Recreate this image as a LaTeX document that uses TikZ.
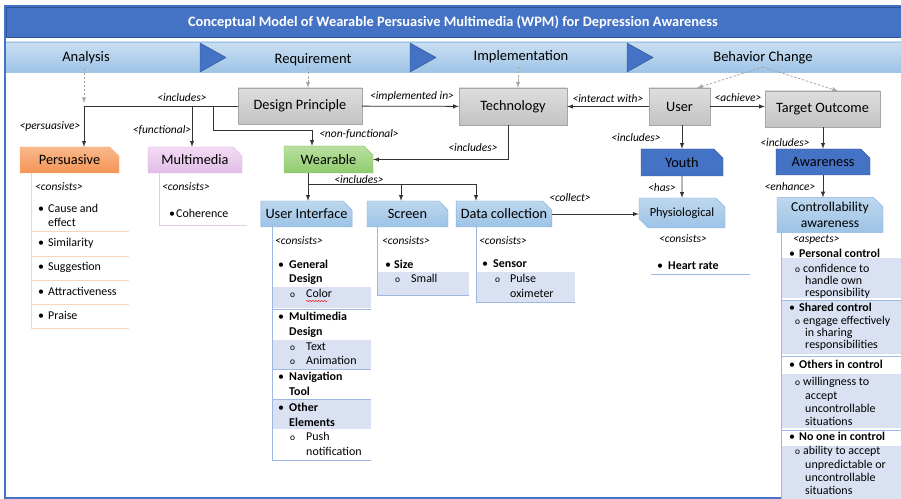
\documentclass[tikz,border=0pt]{standalone}
\usepackage{fontspec}
\setmainfont{Carlito}
\usepackage{tikz}
\usetikzlibrary{arrows.meta, positioning, shapes.misc, decorations.pathmorphing}
\usepackage{xcolor}

\definecolor{titleblue}{HTML}{4472C4}
\definecolor{darkblue}{HTML}{2F5597}
\definecolor{barTop}{HTML}{BDD7EE}
\definecolor{barBot}{HTML}{9DC3E6}
\definecolor{lbBorder}{HTML}{7FAEE0}
\definecolor{lineblue}{HTML}{9DB9E3}
\definecolor{rowblue}{HTML}{D9E1F2}
\definecolor{grayTop}{HTML}{DEDEDE}
\definecolor{grayBot}{HTML}{C3C3C3}
\definecolor{grayLine}{HTML}{A6A6A6}
\definecolor{orTop}{HTML}{F9B88C}
\definecolor{orBot}{HTML}{F59455}
\definecolor{orLine}{HTML}{F4B183}
\definecolor{orList}{HTML}{FAD3B8}
\definecolor{mmTop}{HTML}{F2DBF4}
\definecolor{mmBot}{HTML}{E2BDE8}
\definecolor{mmLine}{HTML}{D9B2E0}
\definecolor{grTop}{HTML}{B9E0A0}
\definecolor{grBot}{HTML}{8FCB6E}
\definecolor{grLine}{HTML}{7CC05A}

\newcommand\fsnode{\fontsize{12.2}{14}\selectfont}
\newcommand\fsphase{\fontsize{12.4}{14}\selectfont}
\newcommand\fslab{\fontsize{9.8}{11}\selectfont\itshape}
\newcommand\fslist{\fontsize{10.2}{12}\selectfont}
\newcommand\fsctl{\fontsize{10.2}{11}\selectfont}

\begin{document}
\begin{tikzpicture}[
    x=0.3mm, y=-0.3mm,
    sz/.style 2 args={minimum width=#1*0.3mm, minimum height=#2*0.3mm},
    gbox/.style={rectangle, draw=grayLine, top color=grayTop, bottom color=grayBot, font=\fsnode, inner sep=0pt},
    snip/.style={chamfered rectangle, chamfered rectangle corners=north east, chamfered rectangle xsep=1.4mm, chamfered rectangle ysep=1.4mm, inner sep=0pt, font=\fsnode},
    lbox/.style={snip, draw=lbBorder, top color=barTop, bottom color=barBot},
    dbox/.style={snip, draw=darkblue, fill=titleblue},
    lbl/.style={font=\fslab, inner sep=0pt},
    itm/.style={font=\fslist, anchor=west, inner sep=0pt, text height=7pt, text depth=2pt},
    bitm/.style={itm, font=\fslist\bfseries},
    omark/.style={itm, font=\fontsize{8}{9}\selectfont},
    citm/.style={itm, font=\fsctl},
    cbitm/.style={itm, font=\fsctl\bfseries},
    link/.style={draw=black!80, line width=0.7pt, -latex},
    conn/.style={draw=black!80, line width=0.7pt},
    phasearrow/.style={draw=gray!70, line width=0.7pt, dash pattern=on 2pt off 1.5pt, -latex},
    orlist/.style={draw=orList, line width=0.7pt},
    bllist/.style={draw=lineblue, line width=0.7pt}
]
\useasboundingbox (0,0) rectangle (901,499);

% Frame, title and phases
\draw[titleblue, line width=1pt] (5,6) rectangle (906,498);
\filldraw[fill=titleblue, draw=darkblue] (6,7) rectangle (906,37);
\node[font=\fontsize{12.3}{14}\selectfont\bfseries, text=white] (title) at (453,22)
    {Conceptual Model of Wearable Persuasive Multimedia (WPM) for Depression Awareness};
\shade[top color=barTop!80, bottom color=barBot] (6,42) rectangle (906,73);
\draw[barBot] (6,42) -- (906,42);

\node[font=\fsphase] (ana) at (86,58) {Analysis};
\node[font=\fsphase] (req) at (313,60) {Requirement};
\node[font=\fsphase] (impl) at (521,57) {Implementation};
\node[font=\fsphase] (beh) at (763,58) {Behavior Change};
\filldraw[fill=titleblue, draw=darkblue] (200,43) -- (226,57.5) -- (200,72) -- cycle;
\filldraw[fill=titleblue, draw=darkblue] (410,43) -- (436,57.5) -- (410,72) -- cycle;
\filldraw[fill=titleblue, draw=darkblue] (627,43) -- (653,57.5) -- (627,72) -- cycle;

% Main concepts
\node[gbox, sz={124}{36}] (dp) at (300,106) {Design Principle};
\node[gbox, sz={108}{37}] (tech) at (513,106.5) {Technology};
\node[gbox, sz={61}{37}] (user) at (679.5,106.5) {User};
\node[gbox, sz={115}{36}] (to) at (822.5,109) {Target Outcome};

% Design principle categories
\node[snip, draw=orLine, top color=orTop, bottom color=orBot, sz={99}{26}] (pers) at (69.5,160) {Persuasive};
\node[snip, draw=mmLine, top color=mmTop, bottom color=mmBot, sz={94}{26}] (mm) at (195,160) {Multimedia};
\node[snip, draw=grLine, top color=grTop, bottom color=grBot, sz={89}{27}] (wear) at (328.5,159.5) {Wearable};

% Wearable parts
\node[lbox, sz={83}{26}] (ui) at (306.5,214) {User Interface};
\node[lbox, sz={81}{26}] (scr) at (407.5,214) {Screen};
\node[lbox, sz={90}{26}] (dc) at (504,214) {Data collection};

% User and outcome
\node[dbox, sz={82}{27}] (youth) at (682,162.5) {Youth};
\node[lbox, chamfered rectangle corners={north east, south west}, font=\fontsize{10.6}{12}\selectfont, sz={86}{30}] (phy) at (682,213) {Physiological};
\node[dbox, sz={94}{26}] (aw) at (823,162) {Awareness};
\node[lbox, sz={106}{34}, align=center, font=\fontsize{11.6}{13.5}\selectfont] (ctl) at (830,215) {Controllability\\awareness};

% Phase arrows
\coordinate (aEnd) at (84,103);
\coordinate (rq) at (308,68);
\coordinate (im) at (518,67);
\coordinate (bc) at (763,67);
\coordinate (uT) at (697,88);
\coordinate (tT) at (838,91);
\draw[phasearrow] (aEnd |- ana.south) -- (aEnd);
\draw[phasearrow] (rq) -- (rq |- dp.north);
\draw[phasearrow] (im) -- (im |- tech.north);
\draw[phasearrow] (bc) -- (uT);
\draw[phasearrow] (bc) -- (tT);

% Connections
\coordinate (jA) at (84,106);
\coordinate (jM) at (192,106);
\coordinate (jW) at (213,106);
\coordinate (kW) at (312,130);
\draw[conn] (dp.west) -- (jA);
\draw[link] (jA) -- (jA |- pers.north);
\draw[link] (jM) -- (jM |- mm.north);
\draw[link] (jW) |- (kW) -- (kW |- wear.north);
\draw[link] (dp) -- (tech);
\draw[link] (tech.south) ++(-5,0) |- (wear.east);
\draw[link] (user) -- (tech);
\draw[link] (user.east) -- (user.east -| to.west);
\draw[link] (user.south -| youth.north) -- (youth.north);
\draw[link] (to.south -| aw.north) -- (aw.north);
\draw[link] (youth) -- (phy);
\draw[link] (aw.south) -- (aw.south |- ctl.north);
\draw[link] (dc.east) -- (dc.east -| phy.west);

\coordinate (wj) at (308,184);
\coordinate (wjS) at (401,184);
\coordinate (wjD) at (476,184);
\draw[conn] (wj |- wear.south) -- (wj) -- (wjD);
\draw[link] (wj) -- (wj |- ui.north);
\draw[link] (wjS) -- (wjS |- scr.north);
\draw[link] (wjD) -- (wjD |- dc.north);

% Connector labels
\node[lbl] (lInc) at (182,98) {<includes>};
\node[lbl] (lPers) at (50,126) {<persuasive>};
\node[lbl] (lFunc) at (162,130) {<functional>};
\node[lbl] (lNonf) at (359,134) {<non-functional>};
\node[lbl] (lImpl) at (412,96) {<implemented in>};
\node[lbl] (lTinc) at (473,148) {<includes>};
\node[lbl] (lInter) at (608,99) {<interact with>};
\node[lbl] (lAch) at (738,98) {<achieve>};
\node[lbl] (lUinc) at (636,138) {<includes>};
\node[lbl] (lOinc) at (785,143) {<includes>};
\node[lbl] (lWinc) at (359,180) {<includes>};
\node[lbl] (lColl) at (570,198) {<collect>};
\node[lbl] (lHas) at (662,188) {<has>};
\node[lbl] (lEnh) at (790,187) {<enhance>};

% Persuasive list
\draw[orlist] (31,173) -- (31,328);
\foreach \y in {231,256,280,304,328} \draw[orlist] (31,\y) -- (129,\y);
\node[lbl, anchor=west] (pCons) at (35,187) {<consists>};
\node[itm] (pb1) at (38,210) {\textbullet};
\node[itm] (p1) at (48,210) {Cause and};
\node[itm] (p1b) at (48,224) {effect};
\node[itm] (pb2) at (38,244) {\textbullet};
\node[itm] (p2) at (48,244) {Similarity};
\node[itm] (pb3) at (38,268) {\textbullet};
\node[itm] (p3) at (48,268) {Suggestion};
\node[itm] (pb4) at (38,293) {\textbullet};
\node[itm] (p4) at (48,293) {Attractiveness};
\node[itm] (pb5) at (38,317) {\textbullet};
\node[itm] (p5) at (48,317) {Praise};

% Multimedia list
\draw[draw=mmLine!70, line width=0.7pt] (159,173) -- (159,225) -- (247,225);
\node[lbl, anchor=west] (mCons) at (162,187) {<consists>};
\node[itm] (mb1) at (169,215) {\textbullet};
\node[itm] (m1) at (176,215) {Coherence};

% User interface list
\fill[rowblue] (272,287) rectangle (371,308);
\fill[rowblue] (272,340) rectangle (371,369);
\fill[rowblue] (272,399) rectangle (371,429);
\draw[bllist] (272,227) -- (272,460);
\foreach \y in {309,369,399,460} \draw[bllist] (272,\y) -- (371,\y);
\node[lbl, anchor=west] (uCons) at (275,241) {<consists>};
\node[itm] (ub1) at (278,266) {\textbullet};
\node[bitm] (u1) at (289,266) {General};
\node[bitm] (u1b) at (289,280) {Design};
\node[omark] (uo1) at (290,295) {o};
\node[itm] (u1c) at (306,295) {Color};
\draw[red, decorate, decoration={snake, amplitude=0.5pt, segment length=2.5pt}] (306,301) -- (328,301);
\node[itm] (ub2) at (278,318) {\textbullet};
\node[bitm] (u2) at (289,318) {Multimedia};
\node[bitm] (u2b) at (289,333) {Design};
\node[omark] (uo2) at (290,348) {o};
\node[itm] (u2c) at (306,348) {Text};
\node[omark] (uo3) at (290,362) {o};
\node[itm] (u2d) at (306,362) {Animation};
\node[itm] (ub3) at (278,378) {\textbullet};
\node[bitm] (u3) at (289,378) {Navigation};
\node[bitm] (u3b) at (289,393) {Tool};
\node[itm] (ub4) at (278,409) {\textbullet};
\node[bitm] (u4) at (289,409) {Other};
\node[bitm] (u4b) at (289,424) {Elements};
\node[omark] (uo4) at (290,438) {o};
\node[itm] (u4c) at (306,438) {Push};
\node[itm] (u4d) at (306,453) {notification};

% Screen list
\fill[rowblue] (377,272) rectangle (469,295);
\draw[bllist] (377,227) -- (377,295) -- (469,295);
\node[lbl, anchor=west] (sCons) at (382,241) {<consists>};
\node[itm] (sb1) at (385,266) {\textbullet};
\node[bitm] (s1) at (394,266) {Size};
\node[omark] (so1) at (395,280) {o};
\node[itm] (s1b) at (411,280) {Small};

% Data collection list
\fill[rowblue] (476,272) rectangle (575,302);
\draw[bllist] (476,227) -- (476,302) -- (575,302);
\node[lbl, anchor=west] (dCons) at (479,241) {<consists>};
\node[itm] (db1) at (482,265) {\textbullet};
\node[bitm] (d1) at (493,265) {Sensor};
\node[omark] (do1) at (495,280) {o};
\node[itm] (d1b) at (510,280) {Pulse};
\node[itm] (d1c) at (510,295) {oximeter};

% Physiological list
\node[lbl] (hCons) at (683,239) {<consists>};
\node[itm] (hb1) at (657,267) {\textbullet};
\node[bitm] (h1) at (668,267) {Heart rate};
\draw[bllist] (651,274) -- (750,274);

% Controllability list
\fill[rowblue] (781,258) rectangle (906,298);
\fill[rowblue] (781,301) rectangle (906,354);
\fill[rowblue] (781,374) rectangle (906,428);
\fill[rowblue] (781,446) rectangle (906,499);
\draw[bllist] (781,232) -- (781,499);
\foreach \y in {300,356,430} \draw[bllist] (781,\y) -- (906,\y);
\node[lbl, anchor=west] (cAsp) at (793,240) {<aspects>};
\node[citm] (cb1) at (789,255) {\textbullet};
\node[cbitm] (c1) at (799,255) {Personal control};
\node[omark] (co1) at (795,270) {o};
\node[citm] (c1a) at (803,270) {confidence to};
\node[citm] (c1b) at (805,282) {handle own};
\node[citm] (c1c) at (805,294) {responsibility};
\node[citm] (cb2) at (789,309) {\textbullet};
\node[cbitm] (c2) at (799,309) {Shared control};
\node[omark] (co2) at (795,322) {o};
\node[citm] (c2a) at (803,322) {engage effectively};
\node[citm] (c2b) at (805,334) {in sharing};
\node[citm] (c2c) at (805,346) {responsibilities};
\node[citm] (cb3) at (789,366) {\textbullet};
\node[cbitm] (c3) at (799,366) {Others in control};
\node[omark] (co3) at (795,383) {o};
\node[citm] (c3a) at (803,383) {willingness to};
\node[citm] (c3b) at (805,397) {accept};
\node[citm] (c3c) at (805,410) {uncontrollable};
\node[citm] (c3d) at (805,423) {situations};
\node[citm] (cb4) at (789,438) {\textbullet};
\node[cbitm] (c4) at (799,438) {No one in control};
\node[omark] (co4) at (795,452) {o};
\node[citm] (c4a) at (803,452) {ability to accept};
\node[citm] (c4b) at (805,466) {unpredictable or};
\node[citm] (c4c) at (805,479) {uncontrollable};
\node[citm] (c4d) at (805,492) {situations};

\end{tikzpicture}
\end{document}
